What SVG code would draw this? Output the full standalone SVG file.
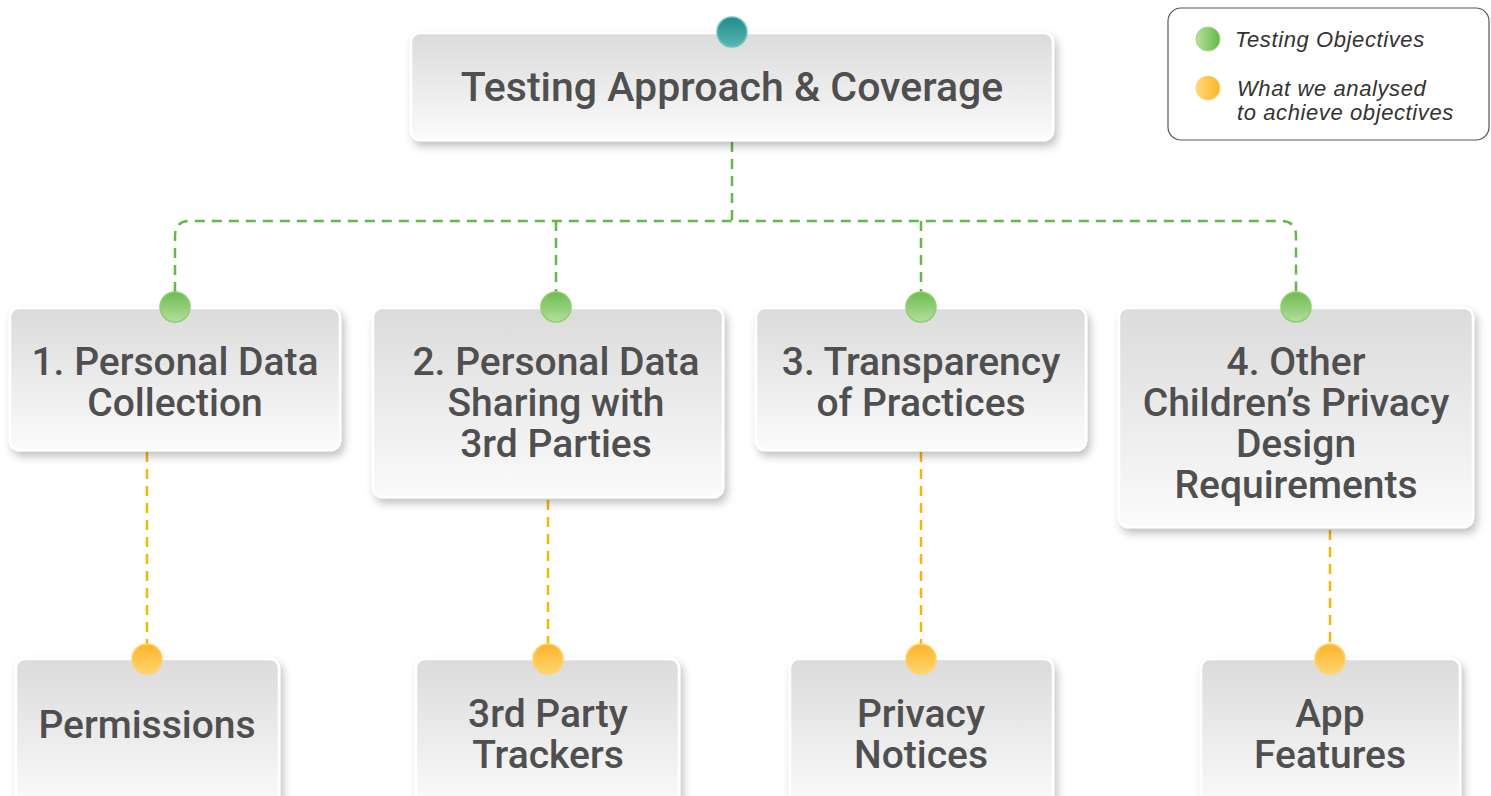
<svg xmlns="http://www.w3.org/2000/svg" width="1491" height="796" viewBox="0 0 1491 796">
<style>
.box{fill:url(#boxg);stroke:#ffffff;stroke-width:2.5;filter:url(#sh)}
.t{font-family:Roboto,"Liberation Sans",sans-serif;font-weight:500;fill:#4f4f4f;text-anchor:middle;font-size:39px}
.rt{font-size:41px}
.lg{font-family:"Liberation Sans",Arial,sans-serif;font-style:italic;fill:#333;font-size:22px;letter-spacing:0.6px}
.gl{fill:none;stroke:#62b946;stroke-width:2.5;stroke-dasharray:10,7}
.ol{fill:none;stroke:#f5b800;stroke-width:2.5;stroke-dasharray:10,7}
.gd{fill:url(#gg);stroke:#8ccf6e;stroke-width:1.5}
.od{fill:url(#og);stroke:#ffd36a;stroke-width:1.5}
</style>
<defs>
<linearGradient id="boxg" x1="0" y1="0" x2="0" y2="1"><stop offset="0" stop-color="#dbdbdb"/><stop offset="1" stop-color="#fbfbfb"/></linearGradient>
<linearGradient id="gg" x1="0" y1="0" x2="0" y2="1"><stop offset="0" stop-color="#6dbb4f"/><stop offset="1" stop-color="#b5df9b"/></linearGradient>
<linearGradient id="og" x1="0" y1="0" x2="0" y2="1"><stop offset="0" stop-color="#fdb42a"/><stop offset="1" stop-color="#ffd56e"/></linearGradient>
<linearGradient id="tg" x1="0" y1="0" x2="0" y2="1"><stop offset="0" stop-color="#1f8c88"/><stop offset="1" stop-color="#5ab7b0"/></linearGradient>
<linearGradient id="lgg" x1="0" y1="0" x2="1" y2="0"><stop offset="0" stop-color="#b9e09c"/><stop offset="1" stop-color="#62b946"/></linearGradient>
<linearGradient id="lgo" x1="0" y1="0" x2="1" y2="0"><stop offset="0" stop-color="#ffd97a"/><stop offset="1" stop-color="#fdb42a"/></linearGradient>
<filter id="sh" x="-10%" y="-10%" width="125%" height="130%"><feDropShadow dx="3" dy="5" stdDeviation="4" flood-color="#000" flood-opacity="0.25"/></filter>
</defs>
<g id="connectors">
<path class="gl" d="M732,142 V221"/>
<path class="gl" d="M175,292 V236 Q175,221 190,221 H1281 Q1296,221 1296,236 V292"/>
<path class="gl" d="M556,221 V292"/>
<path class="gl" d="M921,221 V292"/>
<path class="ol" d="M147,452 V645"/>
<path class="ol" d="M548,500 V645"/>
<path class="ol" d="M921,452 V645"/>
<path class="ol" d="M1330,530 V645"/>
</g>
<g id="legend">
<rect x="1168" y="8" width="321" height="132" rx="13" fill="#fff" stroke="#555" stroke-width="1.2"/>
<circle cx="1208" cy="39" r="12" fill="url(#lgg)" stroke="#9fd585" stroke-width="1"/>
<text class="lg" x="1235" y="47">Testing Objectives</text>
<circle cx="1208" cy="88" r="12" fill="url(#lgo)" stroke="#ffd36a" stroke-width="1"/>
<text class="lg" x="1237" y="96">What we analysed<tspan x="1237" dy="24">to achieve objectives</tspan></text>
</g>
<g id="root">
<rect class="box" x="411" y="33" width="642" height="107" rx="9"/>
<circle cx="732" cy="32" r="15" fill="url(#tg)" stroke="#6cc3bb" stroke-width="1.5"/>
<text class="t rt" x="732" y="101">Testing Approach &amp; Coverage</text>
</g>
<g id="n1">
<rect class="box" x="10" y="308" width="330" height="142" rx="9"/>
<circle class="gd" cx="175" cy="307" r="15"/>
<text class="t" x="175" y="375">1. Personal Data<tspan x="175" dy="41">Collection</tspan></text>
</g>
<g id="n2">
<rect class="box" x="373" y="308" width="350" height="189" rx="9"/>
<circle class="gd" cx="556" cy="307" r="15"/>
<text class="t" x="556" y="375">2. Personal Data<tspan x="556" dy="41">Sharing with</tspan><tspan x="556" dy="41">3rd Parties</tspan></text>
</g>
<g id="n3">
<rect class="box" x="756" y="308" width="330" height="142" rx="9"/>
<circle class="gd" cx="921" cy="307" r="15"/>
<text class="t" x="921" y="375">3. Transparency<tspan x="921" dy="41">of Practices</tspan></text>
</g>
<g id="n4">
<rect class="box" x="1119" y="308" width="354" height="219" rx="9"/>
<circle class="gd" cx="1296" cy="307" r="15"/>
<text class="t" x="1296" y="375">4. Other<tspan x="1296" dy="41">Children’s Privacy</tspan><tspan x="1296" dy="41">Design</tspan><tspan x="1296" dy="41">Requirements</tspan></text>
</g>
<g id="p1">
<rect class="box" x="16" y="659" width="263" height="150" rx="9"/>
<circle class="od" cx="147" cy="659" r="15"/>
<text class="t" x="147" y="738">Permissions</text>
</g>
<g id="p2">
<rect class="box" x="416" y="659" width="263" height="150" rx="9"/>
<circle class="od" cx="548" cy="659" r="15"/>
<text class="t" x="548" y="727">3rd Party<tspan x="548" dy="41">Trackers</tspan></text>
</g>
<g id="p3">
<rect class="box" x="790" y="659" width="263" height="150" rx="9"/>
<circle class="od" cx="921" cy="659" r="15"/>
<text class="t" x="921" y="727">Privacy<tspan x="921" dy="41">Notices</tspan></text>
</g>
<g id="p4">
<rect class="box" x="1201" y="659" width="259" height="150" rx="9"/>
<circle class="od" cx="1330" cy="659" r="15"/>
<text class="t" x="1330" y="727">App<tspan x="1330" dy="41">Features</tspan></text>
</g>
</svg>
